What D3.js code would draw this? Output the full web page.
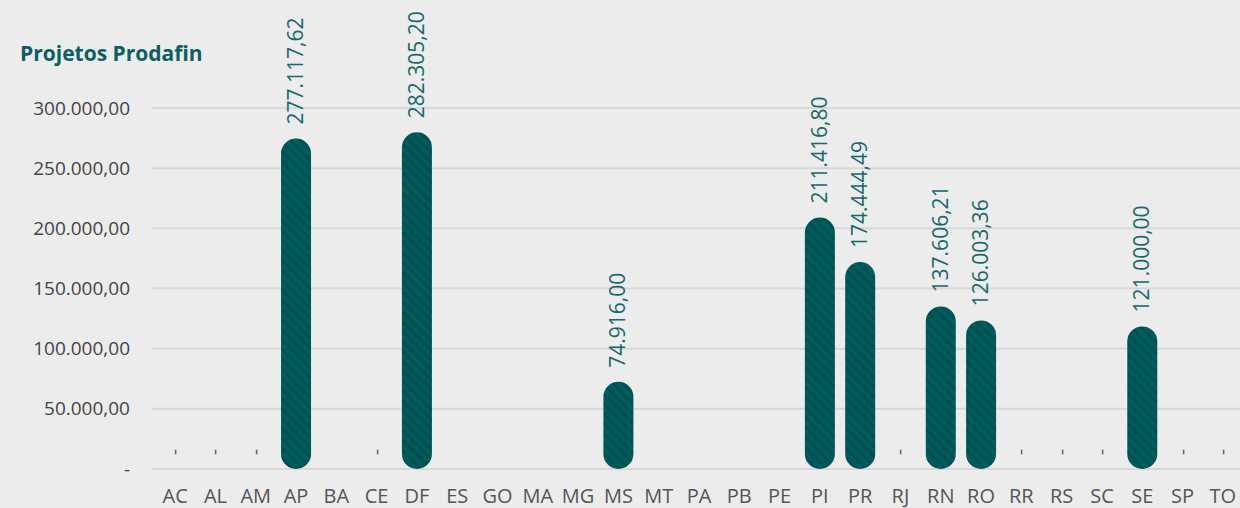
<!DOCTYPE html>
<html><head><meta charset="utf-8">
<script src="https://cdn.jsdelivr.net/npm/d3@7"></script>
<style>
html,body{margin:0;padding:0;background:#ececec;}
svg{display:block;font-family:"Open Sans","Noto Sans",sans-serif;}
</style></head>
<body>
<svg id="chart" width="1240" height="508"></svg>
<script>
const categories = ["AC","AL","AM","AP","BA","CE","DF","ES","GO","MA","MG","MS","MT","PA","PB","PE","PI","PR","RJ","RN","RO","RR","RS","SC","SE","SP","TO"];
const values = [0,0,0,277117.62,null,0,282305.20,null,null,null,null,74916.00,null,null,null,null,211416.80,174444.49,0,137606.21,126003.36,0,0,0,121000.00,0,0];
const yTicks = [0,50000,100000,150000,200000,250000,300000];
const title = "Projetos Prodafin";

const svg = d3.select("#chart");
const W = 1240, H = 508;
const x = d3.scaleBand().domain(categories).range([155, 1243]).paddingInner(0.26).paddingOuter(0.13);
const y = d3.scaleLinear().domain([0,300000]).range([469,108]);

const fmt = v => v === 0 ? "-" : d3.formatLocale({decimal:",",thousands:".",grouping:[3]}).format(",.2f")(v);

const defs = svg.append("defs");
const pat = defs.append("pattern").attr("id","hatch").attr("patternUnits","userSpaceOnUse")
  .attr("width",7).attr("height",7).attr("patternTransform","rotate(-45)");
pat.append("rect").attr("width",7).attr("height",7).attr("fill","#005c5c");
pat.append("rect").attr("width",2.5).attr("height",7).attr("fill","#004e50");

svg.append("rect").attr("width",W).attr("height",H).attr("fill","#ececec");

// grid
svg.append("g").selectAll("line").data(yTicks).join("line")
  .attr("x1",152).attr("x2",W).attr("y1",d=>y(d)).attr("y2",d=>y(d))
  .attr("stroke","#d8d8d8").attr("stroke-width",2);

// y labels
svg.append("g").selectAll("text").data(yTicks).join("text")
  .attr("x",130).attr("y",d=>y(d)).attr("dy","0.35em").attr("text-anchor","end")
  .attr("font-size",19).attr("fill","#444")
  .text(d=>fmt(d));

// title
svg.append("text").attr("x",20).attr("y",61).attr("font-size",21).attr("font-weight","bold")
  .attr("fill","#0b5e61").text(title);

const bw = 30;
const data = categories.map((c,i)=>({c,v:values[i]}));

// bars
svg.append("g").selectAll("rect").data(data.filter(d=>d.v>0)).join("rect")
  .attr("x",d=>x(d.c)+x.bandwidth()/2-bw/2).attr("width",bw)
  .attr("y",d=>y(d.v)+3).attr("height",d=>y(0)-y(d.v)-3)
  .attr("rx",bw/2).attr("ry",bw/2)
  .attr("fill","url(#hatch)");

// data labels
svg.append("g").selectAll("text").data(data.filter(d=>d.v!==null)).join("text")
  .attr("transform",d=>`translate(${x(d.c)+x.bandwidth()/2+(d.v>0?7:6)},${(d.v>0?y(d.v)+3:y(0))-14}) rotate(-90)`)
  .attr("text-anchor","start").attr("font-size",d=>d.v>0?21:19).attr("fill",d=>d.v>0?"#17696b":"#555")
  .text(d=>fmt(d.v));

// x labels
svg.append("g").selectAll("text").data(categories).join("text")
  .attr("x",d=>x(d)+x.bandwidth()/2).attr("y",503).attr("text-anchor","middle")
  .attr("font-size",20).attr("fill","#555").text(d=>d);
</script>
</body></html>
